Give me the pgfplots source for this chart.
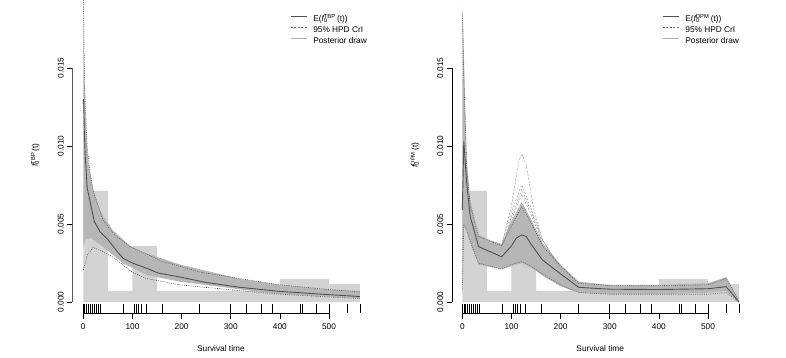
\documentclass[border=0pt]{standalone}
\usepackage{fontspec}
\setmainfont{Liberation Sans}
\usepackage{pgfplots}
\pgfplotsset{compat=1.18}
\definecolor{histcol}{HTML}{D3D3D3}
\definecolor{bandcol}{HTML}{B6B6B6}
\definecolor{drawcol}{HTML}{A0A0A0}
\definecolor{meancol}{HTML}{505050}
\definecolor{hpdcol}{HTML}{606060}
\definecolor{legdraw}{HTML}{B0B0B0}
\newcommand{\fs}{\fontsize{8.3}{10}\selectfont}
\pgfplotsset{
  rstyle/.style={
    scale only axis, anchor=south west,
    width=296pt, height=312.9pt,
    xmin=-22.4, xmax=580, ymin=-0.000705, ymax=0.01935,
    axis x line*=bottom, axis y line*=left,
    axis line style={draw=none},
    xtick={0,100,200,300,400,500}, xticklabels={0,100,200,300,400,500},
    ytick={0,0.005,0.010,0.015}, yticklabels={0.000,0.005,0.010,0.015},
    tick align=outside, major tick length=5.5pt,
    tick style={black, line width=0.6pt},
    minor tick num=0,
    ticklabel style={font=\fs},
    yticklabel style={rotate=90, anchor=south, inner sep=1pt},
    yticklabel shift=2pt,
    xticklabel style={anchor=north, inner sep=1pt},
    xticklabel shift=4pt,
    label style={font=\fs},
    xlabel style={at={(axis description cs:0.502,-0.115)}, anchor=center},
    ylabel style={at={(axis description cs:-0.125,0.505)}, anchor=center, rotate=0},
    legend cell align=left,
    legend image code/.code={\draw[#1] (0pt,2.6pt) -- (16pt,2.6pt);},
    legend style={draw=none, fill=none, anchor=north west, inner sep=0pt,
      font=\fs, row sep=2.5pt,
      nodes={inner sep=0pt, text height=6.5pt, text depth=2pt},
      /tikz/every odd column/.append style={column sep=6pt}},
  }
}
\begin{document}
\begin{tikzpicture}[x=1pt,y=1pt]
\useasboundingbox (0,0) rectangle (786,357);
% ---------------- left panel ----------------
\begin{axis}[rstyle, at={(72.3pt,44pt)},
  xlabel={Survival time},
  ylabel={{\itshape f}\rlap{\textsubscript{0}}\textsuperscript{TBP}\,(t)},
  legend style={at={(axis cs:421,0.0184)}}]
\addlegendimage{meancol, line width=0.9pt}
\addlegendentry{E({\itshape f}\rlap{\textsubscript{0}}\textsuperscript{TBP}\,(t))}
\addlegendimage{hpdcol, line width=0.6pt, dash pattern=on 2pt off 1.5pt}
\addlegendentry{95\% HPD CrI}
\addlegendimage{legdraw, line width=0.6pt}
\addlegendentry{Posterior draw}
% histogram
\addplot[fill=histcol, draw=none, forget plot] coordinates {(0,0) (0,0.00713) (50,0.00713) (50,0.00072) (100,0.00072) (100,0.00359) (150,0.00359) (150,0.00072) (400,0.00072) (400,0.00146) (500,0.00146) (500,0.00115) (563,0.00115) (563,0)} \closedcycle;
% posterior draw band
\addplot[fill=bandcol, draw=none, forget plot] coordinates {(0,0.0195) (2,0.015) (5,0.0115) (10,0.009) (20,0.0072) (35,0.0058) (60,0.0046) (95,0.0036) (130,0.0031) (197,0.0024) (319,0.00148) (400,0.0011) (500,0.0008) (563,0.0007)
 (563,0.00025) (500,0.00035) (400,0.0005) (319,0.00081) (197,0.0013) (129,0.00173) (81,0.00248) (34,0.0037) (15,0.0041) (5,0.0040) (0,0.0036)};
% HPD
\addplot[hpdcol, line width=0.6pt, dash pattern=on 1pt off 1.2pt, forget plot] coordinates {(0,0.0195)(3,0.0135)(8,0.0098)(15,0.0080)(23,0.0068)(41,0.0052)(64,0.0043)(95,0.00355)(163,0.00258)(240,0.0019)(319,0.0015)(400,0.0011)(500,0.0008)(563,0.00065)};
\addplot[hpdcol, line width=0.6pt, dash pattern=on 1pt off 1.2pt, forget plot] coordinates {(0,0.00205)(8,0.0030)(20,0.0035)(35,0.0033)(59,0.0029)(100,0.0019)(129,0.0015)(197,0.0011)(319,0.00072)(400,0.0005)(500,0.00032)(563,0.00022)};
% mean
\addplot[meancol, line width=0.9pt, forget plot] coordinates {(0,0.0130)(1,0.0126)(2,0.0110)(4,0.0093)(8,0.0073)(14,0.0064)(22,0.0052)(34,0.0045)(50,0.0040)(70,0.0032)(81,0.0028)(100,0.0025)(129,0.00216)(152,0.00186)(197,0.00160)(250,0.00125)(319,0.00094)(400,0.00068)(500,0.00047)(563,0.00035)};
% rug
\addplot[only marks, mark=|, mark size=4.5pt, mark options={black, line width=0.6pt}, forget plot] coordinates {(0,-0.000417)(3,-0.000417)(6,-0.000417)(10,-0.000417)(14,-0.000417)(18,-0.000417)(22,-0.000417)(27,-0.000417)(31,-0.000417)(35,-0.000417)(81,-0.000417)(103,-0.000417)(107,-0.000417)(112,-0.000417)(118,-0.000417)(129,-0.000417)(161,-0.000417)(237,-0.000417)(299,-0.000417)(331,-0.000417)(362,-0.000417)(385,-0.000417)(441,-0.000417)(446,-0.000417)(475,-0.000417)(500,-0.000417)(537,-0.000417)(563,-0.000417)};
\draw[black, line width=0.6pt] (axis cs:0,-0.000705) -- (axis cs:500,-0.000705);
\draw[black, line width=0.6pt] (axis cs:-22.4,0) -- (axis cs:-22.4,0.015);
\end{axis}
% ---------------- right panel ----------------
\begin{axis}[rstyle, at={(452pt,44pt)}, xmin=-21, xmax=580, width=295.3pt,
  xlabel={Survival time},
  ylabel={{\itshape f}\rlap{\textsubscript{0}}\textsuperscript{DPM}\,(t)},
  legend style={at={(axis cs:407,0.0184)}}]
\addlegendimage{meancol, line width=0.9pt}
\addlegendentry{E({\itshape f}\rlap{\textsubscript{0}}\textsuperscript{DPM}\,(t))}
\addlegendimage{hpdcol, line width=0.6pt, dash pattern=on 2pt off 1.5pt}
\addlegendentry{95\% HPD CrI}
\addlegendimage{legdraw, line width=0.6pt}
\addlegendentry{Posterior draw}
\addplot[fill=histcol, draw=none, forget plot] coordinates {(0,0) (0,0.00713) (50,0.00713) (50,0.00072) (100,0.00072) (100,0.00359) (150,0.00359) (150,0.00072) (400,0.00072) (400,0.00146) (500,0.00146) (500,0.00115) (563,0.00115) (563,0)} \closedcycle;
\addplot[fill=bandcol, draw=none, forget plot] coordinates {(0,0.0190)(2,0.0175)(3,0.016)(9,0.009)(16,0.0066)(33,0.0043)(60,0.0039)(80,0.0037)(100,0.0052)(121,0.0064)(140,0.0053)(163,0.0038)(200,0.0024)(237,0.0013)(300,0.0011)(400,0.0011)(500,0.0012)(537,0.0016)(563,0.0001)
 (563,0)(537,0.0007)(500,0.0006)(400,0.0005)(300,0.0005)(237,0.0006)(200,0.0010)(163,0.0017)(140,0.0022)(121,0.0025)(100,0.0023)(80,0.0021)(33,0.0024)(16,0.0038)(9,0.0045)(3,0.0050)(0,0.0005)};
% outlying draws
\addplot[drawcol, line width=0.5pt, dash pattern=on 2pt off 1.5pt, forget plot] coordinates {(60,0.0038)(80,0.0036)(100,0.0062)(115,0.0090)(121,0.0095)(130,0.0088)(145,0.0060)(163,0.0040)(200,0.0021)(237,0.0012)};
\addplot[drawcol, line width=0.5pt, dash pattern=on 2pt off 1.5pt, forget plot] coordinates {(60,0.0039)(80,0.0037)(100,0.0058)(121,0.0075)(140,0.0060)(163,0.0040)(200,0.0022)};
\addplot[drawcol, line width=0.5pt, dash pattern=on 2pt off 1.5pt, forget plot] coordinates {(80,0.0035)(100,0.0055)(121,0.0072)(140,0.0058)(163,0.0039)};
\addplot[drawcol, line width=0.5pt, dash pattern=on 2pt off 1.5pt, forget plot] coordinates {(80,0.0034)(100,0.0053)(121,0.0069)(140,0.0056)(163,0.0038)};
\addplot[hpdcol, line width=0.6pt, dash pattern=on 1pt off 1.2pt, forget plot] coordinates {(0,0.0185)(3,0.0145)(9,0.0085)(16,0.0062)(33,0.0042)(80,0.0036)(100,0.0049)(121,0.0061)(140,0.0051)(163,0.0036)(200,0.0023)(237,0.0012)(300,0.00105)(400,0.00105)(500,0.0011)(537,0.0015)(563,0.0001)};
\addplot[hpdcol, line width=0.6pt, dash pattern=on 1pt off 1.2pt, forget plot] coordinates {(0,0.0008)(3,0.0050)(9,0.0046)(16,0.0039)(33,0.0025)(80,0.0021)(100,0.0024)(121,0.0026)(140,0.0023)(163,0.0018)(200,0.0011)(237,0.0006)(300,0.0005)(400,0.0005)(500,0.0005)(537,0.0006)(563,0)};
\addplot[meancol, line width=0.9pt, forget plot] coordinates {(0,0.0059)(3,0.0103)(9,0.0076)(16,0.0055)(33,0.00355)(80,0.0029)(100,0.0036)(110,0.0041)(121,0.0043)(130,0.0042)(140,0.0037)(163,0.0027)(200,0.0018)(237,0.00094)(300,0.00082)(400,0.0008)(500,0.00085)(537,0.00098)(563,0.0)};
\addplot[only marks, mark=|, mark size=4.5pt, mark options={black, line width=0.6pt}, forget plot] coordinates {(0,-0.000417)(3,-0.000417)(6,-0.000417)(10,-0.000417)(14,-0.000417)(18,-0.000417)(22,-0.000417)(27,-0.000417)(31,-0.000417)(35,-0.000417)(81,-0.000417)(103,-0.000417)(107,-0.000417)(112,-0.000417)(118,-0.000417)(129,-0.000417)(161,-0.000417)(237,-0.000417)(299,-0.000417)(331,-0.000417)(362,-0.000417)(385,-0.000417)(441,-0.000417)(446,-0.000417)(475,-0.000417)(500,-0.000417)(537,-0.000417)(563,-0.000417)};
\draw[black, line width=0.6pt] (axis cs:0,-0.000705) -- (axis cs:500,-0.000705);
\draw[black, line width=0.6pt] (axis cs:-21,0) -- (axis cs:-21,0.015);
\end{axis}
\end{tikzpicture}
\end{document}
